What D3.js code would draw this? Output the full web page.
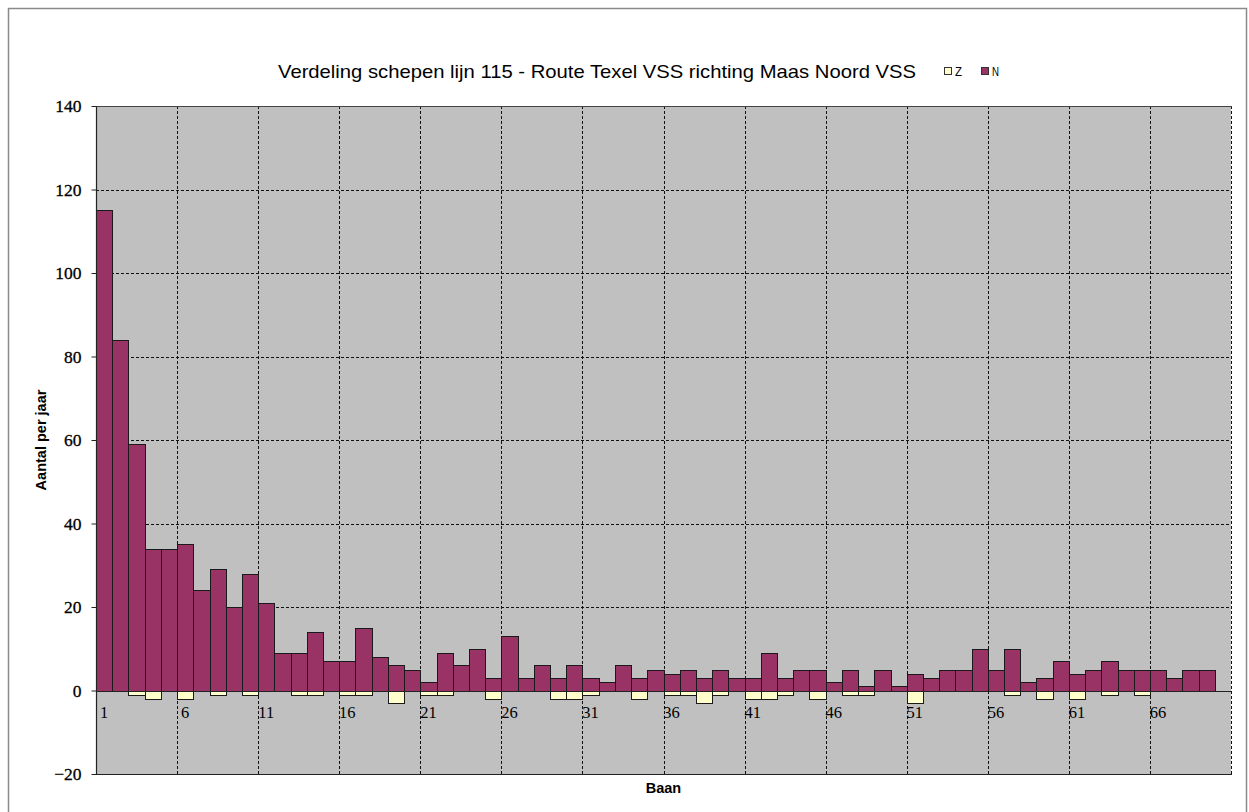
<!DOCTYPE html>
<html><head><meta charset="utf-8">
<script src="https://cdn.jsdelivr.net/npm/d3@7"></script>
<style>html,body{margin:0;padding:0;background:#fff;}svg{display:block;}</style>
</head><body>
<script>
const categories = ["1","2","3","4","5","6","7","8","9","10","11","12","13","14","15","16","17","18","19","20","21","22","23","24","25","26","27","28","29","30","31","32","33","34","35","36","37","38","39","40","41","42","43","44","45","46","47","48","49","50","51","52","53","54","55","56","57","58","59","60","61","62","63","64","65","66","67","68","69","70"];
const seriesN = [115,84,59,34,34,35,24,29,20,28, 21,9,9,14,7,7,15,8,6,5, 2,9,6,10,3,13,3,6,3,6, 3,2,6,3,5,4,5,3,5,3, 3,9,3,5,5,2,5,1,5,1, 4,3,5,5,10,5,10,2,3,7, 4,5,7,5,5,5,3,5,5,0];
const seriesZ = [0,0,-1,-2,0,-2,0,-1,0,-1, 0,0,-1,-1,0,-1,-1,0,-3,0, -1,-1,0,0,-2,0,0,0,-2,-2, -1,0,0,-2,0,-1,-1,-3,-1,0, -2,-2,-1,0,-2,0,-1,-1,0,0, -3,0,0,0,0,0,-1,0,-2,0, -2,0,-1,0,-1,0,0,0,0,0];
const xTickLabels = ["1","6","11","16","21","26","31","36","41","46","51","56","61","66"];
const yTicks = [-20,0,20,40,60,80,100,120,140];
const titleText = "Verdeling schepen lijn 115 - Route Texel VSS richting Maas Noord VSS";
const legendNames = ["Z","N"];

const W = 1249, H = 812;
const svg = d3.select("body").append("svg").attr("width", W).attr("height", H);

// outer chart frame
svg.append("rect").attr("x", 8.5).attr("y", 8.5).attr("width", 1238).attr("height", 820)
  .attr("fill", "#fff").attr("stroke", "#8a8a8a").attr("stroke-width", 1.5);

const L = 96, R = 1231, T = 106, B = 774;
const x = d3.scaleBand().domain(categories).range([L, R]).padding(0);
const y = d3.scaleLinear().domain([-20, 140]).range([B, T]);

// plot background
svg.append("rect").attr("x", L).attr("y", T).attr("width", R - L).attr("height", B - T).attr("fill", "#c0c0c0");

const grid = svg.append("g");
// horizontal gridlines
yTicks.filter(v => v > 0 && v < 140).forEach(v => {
  const yy = Math.round(y(v)) + 0.5;
  grid.append("line").attr("x1", L).attr("x2", R).attr("y1", yy).attr("y2", yy)
    .attr("stroke", "#111").attr("stroke-dasharray", "3,2").attr("stroke-width", 1);
});
// vertical gridlines at every 5th category boundary
xTickLabels.slice(1).forEach(c => {
  const xx = Math.round(x(c)) + 0.5;
  grid.append("line").attr("x1", xx).attr("x2", xx).attr("y1", T).attr("y2", B)
    .attr("stroke", "#111").attr("stroke-dasharray", "3,2").attr("stroke-width", 1);
});
// right edge dashed
grid.append("line").attr("x1", R + 0.5).attr("x2", R + 0.5).attr("y1", T).attr("y2", B)
  .attr("stroke", "#111").attr("stroke-dasharray", "3,2");

// bars
const bars = svg.append("g");
function drawSeries(vals, color) {
  bars.selectAll(null).data(categories.map((c, i) => ({c, v: vals[i]})).filter(d => d.v !== 0))
    .enter().append("rect")
    .attr("x", d => Math.round(x(d.c)) + 0.5)
    .attr("width", d => Math.round(x(d.c) + x.bandwidth()) - Math.round(x(d.c)))
    .attr("y", d => Math.round(y(Math.max(0, d.v))) + 0.5)
    .attr("height", d => Math.abs(Math.round(y(d.v)) - Math.round(y(0))))
    .attr("fill", color).attr("stroke", "#1a1a1a").attr("stroke-width", 1);
}
drawSeries(seriesZ, "#ffffcc");
drawSeries(seriesN, "#993366");

// plot borders
const border = svg.append("g").attr("stroke", "#222").attr("stroke-width", 1.2);
border.append("line").attr("x1", L + 0.5).attr("x2", L + 0.5).attr("y1", T).attr("y2", B + 1);
border.append("line").attr("x1", L).attr("x2", R + 1).attr("y1", T + 0.5).attr("y2", T + 0.5).attr("stroke", "#444");
border.append("line").attr("x1", L).attr("x2", R + 1).attr("y1", B + 0.5).attr("y2", B + 0.5);
// zero axis line
border.append("line").attr("x1", L).attr("x2", R).attr("y1", Math.round(y(0)) + 0.5).attr("y2", Math.round(y(0)) + 0.5);

// y axis ticks and labels
const yAxis = d3.axisLeft(y).tickValues(yTicks).tickSize(5).tickPadding(10).tickFormat(d3.format("d"));
const gy = svg.append("g").attr("transform", `translate(${L + 0.5},0)`).call(yAxis);
gy.select(".domain").remove();
gy.selectAll(".tick line").attr("stroke", "#222");
gy.selectAll(".tick text").attr("font-family", "'Liberation Serif', serif").attr("font-size", 17.5)
  .attr("fill", "#000").attr("x", -15).attr("stroke", "#000").attr("stroke-width", 0.3);

// x labels centered on categories
svg.append("g").selectAll("text").data(xTickLabels).enter().append("text")
  .attr("x", d => x(d) + x.bandwidth() / 2).attr("y", 718)
  .attr("text-anchor", "middle")
  .attr("font-family", "'Liberation Serif', serif").attr("font-size", 16.5).attr("fill", "#000")
  .text(d => d);

// axis titles
svg.append("text").attr("x", (L + R) / 2).attr("y", 793).attr("text-anchor", "middle")
  .attr("font-family", "'Liberation Sans', Arial, sans-serif").attr("font-weight", "bold").attr("font-size", 14.5)
  .text("Baan");
svg.append("text").attr("transform", `translate(46,${(T + B) / 2}) rotate(-90)`).attr("text-anchor", "middle")
  .attr("font-family", "'Liberation Sans', Arial, sans-serif").attr("font-weight", "bold").attr("font-size", 14.5)
  .text("Aantal per jaar");

// title
svg.append("text").attr("x", 278).attr("y", 78)
  .attr("font-family", "'Liberation Sans', Arial, sans-serif").attr("font-size", 18.5)
  .attr("textLength", 638).attr("lengthAdjust", "spacingAndGlyphs")
  .text(titleText);

// legend
const legendColors = ["#ffffcc", "#993366"];
const legX = [944, 981];
legendNames.forEach((n, i) => {
  svg.append("rect").attr("x", legX[i] + 0.5).attr("y", 67.5).attr("width", 7).attr("height", 7)
    .attr("fill", legendColors[i]).attr("stroke", "#333");
  svg.append("text").attr("x", legX[i] + 11).attr("y", 76)
    .attr("font-family", "'Liberation Sans', sans-serif").attr("font-size", 13)
    .attr("textLength", 7).attr("lengthAdjust", "spacingAndGlyphs")
    .text(n);
});
</script>
</body></html>
